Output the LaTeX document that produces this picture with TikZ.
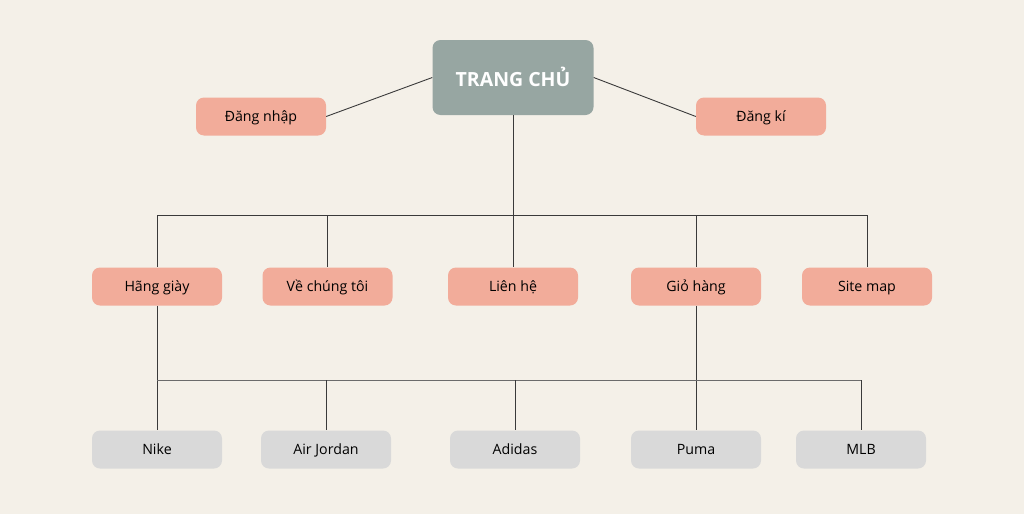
\documentclass[tikz,border=0pt]{standalone}
\usepackage{fontspec}
\setmainfont{Open Sans}
\usetikzlibrary{positioning}
\definecolor{bgcream}{HTML}{F4F0E8}
\definecolor{homegrey}{HTML}{97A6A2}
\definecolor{salmon}{HTML}{F2AC9A}
\definecolor{lightgrey}{HTML}{D9D9D9}
\definecolor{linegrey}{HTML}{3A3A3A}
\begin{document}
\begin{tikzpicture}[x=1pt,y=-1pt,
    box/.style={rounded corners=8pt,minimum width=130pt,minimum height=38pt,inner sep=0pt,text depth=1pt,font=\fontsize{14.2}{16}\selectfont},
    menu/.style={box,fill=salmon},
    brand/.style={box,fill=lightgrey},
    link/.style={draw=linegrey,line width=0.9pt}
]
    \fill[bgcream] (0,0) rectangle (1024,514);
    % top level
    \node [box,fill=homegrey,minimum width=161pt,minimum height=75pt,text=white,font=\bfseries\fontsize{19.5}{22}\selectfont] (home) at (513,77.5) {TRANG CHỦ};
    \node [menu] (login) at (261,116.5) {Đăng nhập};
    \node [menu] (signup) at (761,116.5) {Đăng kí};
    \draw [link] (login.east) -- (home.west);
    \draw [link] (home.east) -- (signup.west);
    % second row
    \node [menu] (hang) at (157,286.5) {Hãng giày};
    \node [menu] (ve) at (327.5,286.5) {Về chúng tôi};
    \node [menu] (lien) at (513,286.5) {Liên hệ};
    \node [menu] (gio) at (696,286.5) {Giỏ hàng};
    \node [menu] (site) at (867,286.5) {Site map};
    \coordinate (bus1) at (513,215);
    \draw [link] (home.south) -- (home.south |- bus1);
    \draw [link] (hang.north |- bus1) -- (site.north |- bus1);
    \foreach \n in {hang,ve,lien,gio,site} {
        \draw [link] (\n.north |- bus1) -- (\n.north);
    }
    % third row
    \node [brand] (nike) at (157,449.5) {Nike};
    \node [brand] (jordan) at (326,449.5) {Air Jordan};
    \node [brand] (adidas) at (515,449.5) {Adidas};
    \node [brand] (puma) at (696,449.5) {Puma};
    \node [brand] (mlb) at (861,449.5) {MLB};
    \coordinate (bus2) at (513,380);
    \draw [link] (hang.south) -- (nike.north);
    \draw [link] (gio.south) -- (puma.north);
    \draw [link,draw=linegrey!75] (nike.north |- bus2) -- (mlb.north |- bus2);
    \foreach \n in {jordan,adidas,mlb} {
        \draw [link] (\n.north |- bus2) -- (\n.north);
    }
\end{tikzpicture}
\end{document}
